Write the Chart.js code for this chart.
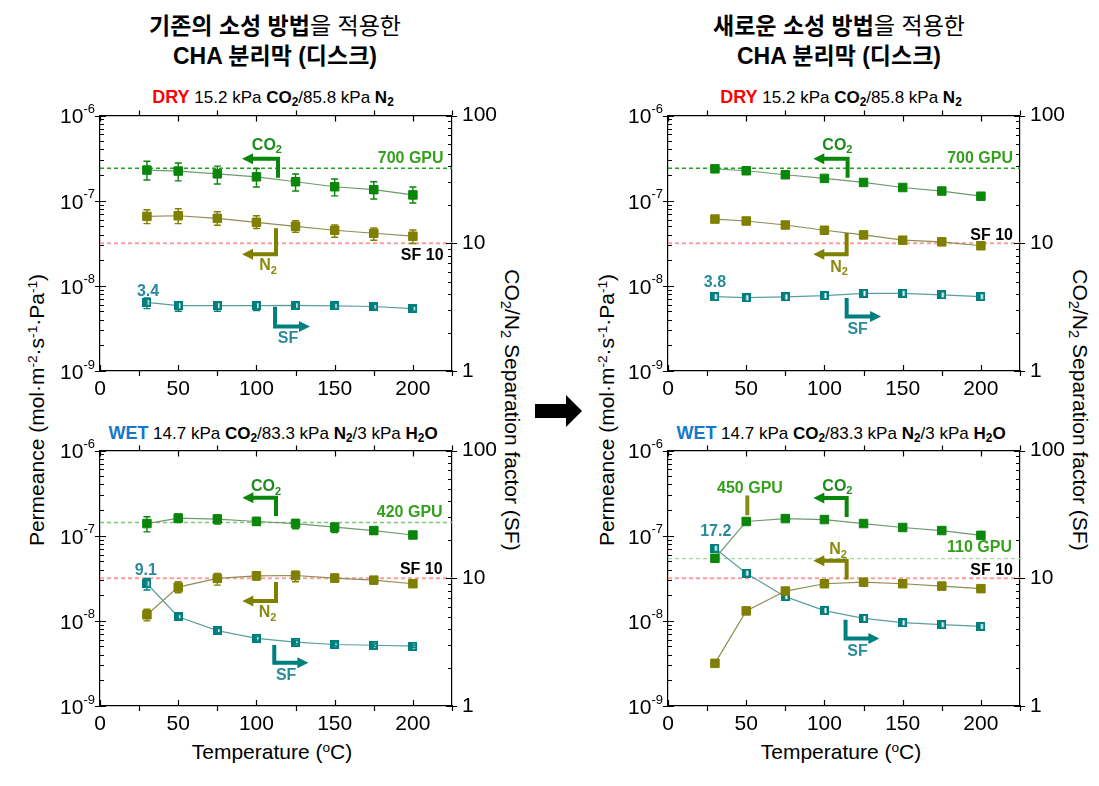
<!DOCTYPE html>
<html>
<head>
<meta charset="utf-8">
<script src="https://cdn.jsdelivr.net/npm/chart.js@4.4.1/dist/chart.umd.min.js"></script>
<style>
html, body { margin: 0; padding: 0; background: #fff; overflow: hidden; }
body { width: 1099px; height: 786px; position: relative; font-family: "Liberation Sans", Arial, sans-serif; color: #000; }
canvas { position: absolute; }
.t { position: absolute; white-space: nowrap; transform: translate(-50%, -50%); }
.title { font-family: "Liberation Sans", "Noto Sans CJK KR", sans-serif; font-size: 23px; text-align: center; line-height: 30px; }
.sub { font-size: 17px; }
.sub b { font-weight: bold; }
sub { font-size: 70%; vertical-align: -0.3em; line-height: 0; }
sup { font-size: 65%; vertical-align: 0.55em; line-height: 0; }
.axt { font-size: 21px; }
.rotl { transform: translate(-50%, -50%) rotate(-90deg); }
.rotr { transform: translate(-50%, -50%) rotate(90deg); }
</style>
</head>
<body>

<!-- titles -->
<div class="t title" style="left:275px; top:41px;">
  <b>기존의 소성 방법</b>을 적용한<br><b>CHA 분리막 (디스크)</b>
</div>
<div class="t title" style="left:839px; top:41px;">
  <b>새로운 소성 방법</b>을 적용한<br><b>CHA 분리막 (디스크)</b>
</div>

<!-- panel subtitles -->
<div class="t sub" style="left:273px; top:97px;"><b style="color:#ff0000;font-size:18px;">DRY</b> 15.2 kPa <b>CO<sub>2</sub></b>/85.8 kPa <b>N<sub>2</sub></b></div>
<div class="t sub" style="left:841px; top:97px;"><b style="color:#ff0000;font-size:18px;">DRY</b> 15.2 kPa <b>CO<sub>2</sub></b>/85.8 kPa <b>N<sub>2</sub></b></div>
<div class="t sub" style="left:273px; top:433px;"><b style="color:#1577c9;font-size:18px;">WET</b> 14.7 kPa <b>CO<sub>2</sub></b>/83.3 kPa <b>N<sub>2</sub></b>/3 kPa <b>H<sub>2</sub>O</b></div>
<div class="t sub" style="left:841px; top:433px;"><b style="color:#1577c9;font-size:18px;">WET</b> 14.7 kPa <b>CO<sub>2</sub></b>/83.3 kPa <b>N<sub>2</sub></b>/3 kPa <b>H<sub>2</sub>O</b></div>

<!-- axis titles -->
<div class="t axt rotl" style="left:37px; top:410px;">Permeance (mol·m<sup>-2</sup>·s<sup>-1</sup>·Pa<sup>-1</sup>)</div>
<div class="t axt rotl" style="left:607px; top:410px;">Permeance (mol·m<sup>-2</sup>·s<sup>-1</sup>·Pa<sup>-1</sup>)</div>
<div class="t axt rotr" style="left:512px; top:410px;">CO<sub>2</sub>/N<sub>2</sub> Separation factor (SF)</div>
<div class="t axt rotr" style="left:1080px; top:410px;">CO<sub>2</sub>/N<sub>2</sub> Separation factor (SF)</div>
<div class="t axt" style="left:272px; top:752px;">Temperature (<sup>o</sup>C)</div>
<div class="t axt" style="left:841px; top:752px;">Temperature (<sup>o</sup>C)</div>

<!-- big arrow between the two columns -->
<svg style="position:absolute; left:535px; top:395px;" width="48" height="32">
  <polygon points="0,9 31,9 31,0 47,16 31,32 31,23 0,23" fill="#000"/>
</svg>

<canvas id="cTL" width="530" height="320" style="left:0px; top:93px;"></canvas>
<canvas id="cBL" width="530" height="320" style="left:0px; top:428px;"></canvas>
<canvas id="cTR" width="530" height="320" style="left:568px; top:93px;"></canvas>
<canvas id="cBR" width="530" height="320" style="left:568px; top:428px;"></canvas>

<script>
// ---- data ----
const temps = [30, 50, 75, 100, 125, 150, 175, 200];

// conventional calcination, dry feed
const convDryCO2   = [2.29e-7, 2.23e-7, 2.07e-7, 1.91e-7, 1.67e-7, 1.46e-7, 1.35e-7, 1.17e-7];
const convDryCO2Hi = [2.91e-7, 2.78e-7, 2.55e-7, 2.39e-7, 2.06e-7, 1.80e-7, 1.67e-7, 1.45e-7];
const convDryCO2Lo = [1.75e-7, 1.71e-7, 1.57e-7, 1.45e-7, 1.30e-7, 1.14e-7, 1.05e-7, 9.4e-8];
const convDryN2    = [6.55e-8, 6.66e-8, 6.21e-8, 5.58e-8, 5.01e-8, 4.50e-8, 4.15e-8, 3.83e-8];
const convDryN2Hi  = [7.83e-8, 8.05e-8, 7.43e-8, 6.67e-8, 5.83e-8, 5.20e-8, 4.80e-8, 4.54e-8];
const convDryN2Lo  = [5.38e-8, 5.38e-8, 5.15e-8, 4.71e-8, 4.27e-8, 3.73e-8, 3.44e-8, 3.15e-8];
const convDrySF    = [3.45, 3.25, 3.25, 3.25, 3.27, 3.23, 3.20, 3.08];
const convDrySFHi  = [3.73, 3.45, 3.45, 3.45, 3.43, 3.39, 3.33, 3.23];
const convDrySFLo  = [3.08, 2.94, 2.94, 2.97, 3.05, 3.05, 3.05, 2.94];

// conventional calcination, wet feed
const convWetCO2   = [1.39e-7, 1.61e-7, 1.57e-7, 1.47e-7, 1.39e-7, 1.26e-7, 1.15e-7, 1.02e-7];
const convWetCO2Hi = [1.67e-7, 1.80e-7, 1.75e-7, 1.64e-7, 1.55e-7, 1.40e-7, 1.26e-7, 1.09e-7];
const convWetCO2Lo = [1.11e-7, 1.43e-7, 1.37e-7, 1.33e-7, 1.21e-7, 1.09e-7, 1.05e-7, 9.5e-8];
const convWetN2    = [1.18e-8, 2.49e-8, 3.15e-8, 3.38e-8, 3.41e-8, 3.18e-8, 3.01e-8, 2.73e-8];
const convWetN2Hi  = [1.37e-8, 2.88e-8, 3.60e-8, 3.79e-8, 3.83e-8, 3.53e-8, 3.23e-8, 2.93e-8];
const convWetN2Lo  = [1.00e-8, 2.14e-8, 2.63e-8, 3.01e-8, 2.88e-8, 2.85e-8, 2.80e-8, 2.56e-8];
const convWetSF    = [9.06, 5.00, 3.89, 3.39, 3.16, 3.03, 2.99, 2.94];
const convWetSFHi  = [9.97, 5.20, 4.05, 3.50, 3.25, 3.12, 3.06, 3.00];
const convWetSFLo  = [8.09, 4.80, 3.75, 3.28, 3.07, 2.95, 2.92, 2.88];

// new calcination, dry feed
const newDryCO2 = [2.37e-7, 2.25e-7, 2.02e-7, 1.83e-7, 1.64e-7, 1.43e-7, 1.30e-7, 1.13e-7];
const newDryN2  = [6.09e-8, 5.78e-8, 5.19e-8, 4.50e-8, 3.97e-8, 3.44e-8, 3.29e-8, 2.96e-8];
const newDrySF  = [3.82, 3.75, 3.80, 3.89, 4.06, 4.06, 3.94, 3.82];

// new calcination, wet feed
const newWetCO2 = [5.43e-8, 1.47e-7, 1.59e-7, 1.55e-7, 1.39e-7, 1.25e-7, 1.15e-7, 1.01e-7];
const newWetN2  = [3.17e-9, 1.31e-8, 2.24e-8, 2.73e-8, 2.85e-8, 2.73e-8, 2.56e-8, 2.39e-8];
const newWetSF  = [17.2, 10.97, 7.18, 5.59, 4.85, 4.49, 4.33, 4.20];

// reference levels (700 / 420 / 110 GPU lines, SF = 10)
const gpuLevel = { convDry: 2.41e-7, convWet: 1.43e-7, newDry: 2.41e-7, newWet: 5.38e-8 };
const sfLevel = 10;

const xTicks = [0, 50, 100, 150, 200];
const sfTicks = [1, 10, 100];
const permDecades = [-6, -7, -8, -9];

// ---- styling ----
const GREEN = '#0a860a', OLIVE = '#7f7f00', TEAL = '#007f7f';
const FONT = '"Liberation Sans", Arial, sans-serif';
Chart.defaults.font.family = FONT;

function sfMarker() {
    // teal square with a white slot, like the half-open symbol in the figure
    const c = document.createElement('canvas');
    c.width = 9; c.height = 9;
    const g = c.getContext('2d');
    g.fillStyle = TEAL;
    g.fillRect(0, 0, 9, 9);
    g.fillStyle = '#fff';
    g.fillRect(4.5, 2, 2, 5);
    return c;
}
const SF_MARK = sfMarker();

function pts(vals) {
    return temps.map((t, i) => ({ x: t, y: vals[i] }));
}

function flat(v) {
    return [{ x: 0, y: v }, { x: 225, y: v }];
}

// text with subscript pieces: parts = [[text, isSub], ...]
function richText(ctx, parts, x, y, align, color, size) {
    const big = `bold ${size}px ${FONT}`, small = `bold ${Math.round(size * 0.7)}px ${FONT}`;
    let w = 0;
    parts.forEach(p => { ctx.font = p[1] ? small : big; w += ctx.measureText(p[0]).width; });
    let sx = align === 'right' ? x - w : align === 'center' ? x - w / 2 : x;
    ctx.fillStyle = color;
    ctx.textBaseline = 'middle';
    ctx.textAlign = 'left';
    parts.forEach(p => {
        ctx.font = p[1] ? small : big;
        ctx.fillText(p[0], sx, p[1] ? y + 5 : y);
        sx += ctx.measureText(p[0]).width;
    });
}

function drawArrow(ctx, p, color, head) {
    ctx.save();
    ctx.strokeStyle = color;
    ctx.fillStyle = color;
    ctx.lineWidth = 4;
    ctx.lineJoin = 'miter';
    const n = p.length;
    const ang = Math.atan2(p[n - 1][1] - p[n - 2][1], p[n - 1][0] - p[n - 2][0]);
    const L = 11, W = 5.5;
    ctx.beginPath();
    ctx.moveTo(p[0][0], p[0][1]);
    for (let i = 1; i < n - 1; i++) ctx.lineTo(p[i][0], p[i][1]);
    if (head) {
        ctx.lineTo(p[n - 1][0] - Math.cos(ang) * (L - 1), p[n - 1][1] - Math.sin(ang) * (L - 1));
    } else {
        ctx.lineTo(p[n - 1][0], p[n - 1][1]);
    }
    ctx.stroke();
    if (head) {
        const bx = p[n - 1][0] - Math.cos(ang) * L, by = p[n - 1][1] - Math.sin(ang) * L;
        ctx.beginPath();
        ctx.moveTo(p[n - 1][0], p[n - 1][1]);
        ctx.lineTo(bx - Math.sin(ang) * W, by + Math.cos(ang) * W);
        ctx.lineTo(bx + Math.sin(ang) * W, by - Math.cos(ang) * W);
        ctx.closePath();
        ctx.fill();
    }
    ctx.restore();
}

// draws error bars, the box, ticks, decade labels and the in-plot notes
function decoPlugin(cfg) {
    return {
        id: 'deco',
        afterDatasetsDraw(chart) {
            const ctx = chart.ctx, xs = chart.scales.x, ys = chart.scales.y, ys2 = chart.scales.y2;

            (cfg.errors || []).forEach(e => {
                const sc = e.axis === 'y2' ? ys2 : ys;
                ctx.save();
                ctx.strokeStyle = e.color;
                ctx.lineWidth = 1.4;
                temps.forEach((t, i) => {
                    const px = xs.getPixelForValue(t);
                    const top = sc.getPixelForValue(e.hi[i]), bot = sc.getPixelForValue(e.lo[i]);
                    ctx.beginPath();
                    ctx.moveTo(px, top); ctx.lineTo(px, bot);
                    ctx.moveTo(px - 3.5, top); ctx.lineTo(px + 3.5, top);
                    ctx.moveTo(px - 3.5, bot); ctx.lineTo(px + 3.5, bot);
                    ctx.stroke();
                });
                ctx.restore();
            });

            const P = (x, ly) => [xs.getPixelForValue(x), ys.getPixelForValue(Math.pow(10, ly))];
            (cfg.arrows || []).forEach(a => drawArrow(ctx, a.p.map(q => P(q[0], q[1])), a.color, a.head !== false));
            (cfg.notes || []).forEach(nt => {
                const [px, py] = P(nt.x, nt.ly);
                richText(ctx, nt.parts, px, py, nt.align || 'center', nt.color, nt.size || 16);
            });
        },
        afterDraw(chart) {
            const ctx = chart.ctx, a = chart.chartArea;
            const xs = chart.scales.x, ys = chart.scales.y, ys2 = chart.scales.y2;
            ctx.save();
            ctx.strokeStyle = '#000';
            ctx.lineWidth = 1.2;
            ctx.beginPath();
            // top edge of the box
            ctx.moveTo(a.left, a.top); ctx.lineTo(a.right, a.top);
            // x ticks: majors inside, minors outside, mirrored on top
            for (let v = 0; v <= 225; v += 25) {
                const px = Math.round(xs.getPixelForValue(v)) + 0.5;
                if (xTicks.includes(v)) {
                    ctx.moveTo(px, a.bottom); ctx.lineTo(px, a.bottom - 6);
                    ctx.moveTo(px, a.top); ctx.lineTo(px, a.top + 6);
                } else {
                    ctx.moveTo(px, a.bottom); ctx.lineTo(px, a.bottom + 5);
                    ctx.moveTo(px, a.top); ctx.lineTo(px, a.top - 5);
                }
            }
            // left log ticks
            permDecades.forEach(d => {
                const py = Math.round(ys.getPixelForValue(Math.pow(10, d))) + 0.5;
                ctx.moveTo(a.left - 5, py); ctx.lineTo(a.left + 6, py);
                if (d > -9) {
                    for (let m = 2; m <= 9; m++) {
                        const my = Math.round(ys.getPixelForValue(m * Math.pow(10, d - 1))) + 0.5;
                        ctx.moveTo(a.left, my); ctx.lineTo(a.left + 4, my);
                    }
                }
            });
            // right log ticks
            [1, 10, 100].forEach(d => {
                const py = Math.round(ys2.getPixelForValue(d)) + 0.5;
                ctx.moveTo(a.right + 5, py); ctx.lineTo(a.right - 6, py);
                if (d < 100) {
                    for (let m = 2; m <= 9; m++) {
                        const my = Math.round(ys2.getPixelForValue(m * d)) + 0.5;
                        ctx.moveTo(a.right, my); ctx.lineTo(a.right - 4, my);
                    }
                }
            });
            ctx.stroke();

            // 10^n labels on the left axis
            ctx.fillStyle = '#000';
            ctx.textBaseline = 'middle';
            ctx.textAlign = 'left';
            permDecades.forEach(d => {
                const py = ys.getPixelForValue(Math.pow(10, d));
                ctx.font = `13px ${FONT}`;
                const sup = String(d);
                const ws = ctx.measureText(sup).width;
                ctx.font = `21px ${FONT}`;
                const wb = ctx.measureText('10').width;
                const x0 = a.left - 5 - ws - wb;
                ctx.fillText('10', x0, py + 2);
                ctx.font = `13px ${FONT}`;
                ctx.fillText(sup, x0 + wb, py - 6);
            });
            ctx.restore();
        }
    };
}

function makePanel(id, cfg) {
    const datasets = [
        {
            label: 'CO2', data: pts(cfg.co2), yAxisID: 'y',
            borderColor: '#6f9a6f', borderWidth: 1.2,
            pointStyle: 'rect', pointRadius: 6, pointBorderWidth: 1,
            pointBackgroundColor: GREEN, pointBorderColor: GREEN
        },
        {
            label: 'N2', data: pts(cfg.n2), yAxisID: 'y',
            borderColor: '#8f8d55', borderWidth: 1.2,
            pointStyle: 'rect', pointRadius: 6, pointBorderWidth: 1,
            pointBackgroundColor: OLIVE, pointBorderColor: OLIVE
        },
        {
            label: 'SF', data: pts(cfg.sf), yAxisID: 'y2',
            borderColor: '#5c9e9e', borderWidth: 1.2,
            pointStyle: SF_MARK, pointRadius: 5
        },
        {
            label: 'GPU', data: flat(cfg.gpu), yAxisID: 'y', order: 5,
            borderColor: cfg.gpuColor, borderWidth: 1.4, borderDash: [4, 3], pointRadius: 0
        },
        {
            label: 'SF10', data: flat(sfLevel), yAxisID: 'y2', order: 5,
            borderColor: '#ff9c9c', borderWidth: 2, borderDash: [4, 3], pointRadius: 0
        }
    ];

    new Chart(document.getElementById(id), {
        type: 'line',
        data: { datasets },
        options: {
            responsive: false,
            animation: false,
            devicePixelRatio: 1,
            layout: { padding: { left: 40, right: 18, top: 20, bottom: 12 } },
            plugins: { legend: { display: false }, tooltip: { enabled: false } },
            elements: { line: { tension: 0 } },
            scales: {
                x: {
                    type: 'linear', min: 0, max: 225,
                    grid: { display: false, drawTicks: false },
                    border: { display: true, color: '#000', width: 1.2 },
                    ticks: {
                        stepSize: 50, includeBounds: false, padding: 6,
                        color: '#000', font: { size: 21 },
                        callback: v => (xTicks.includes(v) ? String(v) : '')
                    },
                    afterFit: s => { s.height = 30; }
                },
                y: {
                    type: 'logarithmic', position: 'left', min: 1e-9, max: 1e-6,
                    grid: { display: false, drawTicks: false },
                    border: { display: true, color: '#000', width: 1.2 },
                    ticks: { display: false },
                    afterFit: s => { s.width = 60; }
                },
                y2: {
                    type: 'logarithmic', position: 'right', min: 1, max: 100,
                    grid: { display: false, drawTicks: false },
                    border: { display: true, color: '#000', width: 1.2 },
                    ticks: {
                        autoSkip: false, padding: 10, color: '#000', font: { size: 21 },
                        callback: v => (sfTicks.includes(v) ? String(v) : '')
                    },
                    afterFit: s => { s.width = 60; }
                }
            }
        },
        plugins: [decoPlugin(cfg)]
    });
}

const CO2TXT = [['CO', false], ['2', true]];
const N2TXT = [['N', false], ['2', true]];
const GPU_TXT_COLOR = '#35a01c';
const SF_TXT_COLOR = '#2a8a9c';

makePanel('cTL', {
    co2: convDryCO2, n2: convDryN2, sf: convDrySF,
    gpu: gpuLevel.convDry, gpuColor: '#1ea51e',
    errors: [
        { hi: convDryCO2Hi, lo: convDryCO2Lo, color: GREEN, axis: 'y' },
        { hi: convDryN2Hi, lo: convDryN2Lo, color: OLIVE, axis: 'y' },
        { hi: convDrySFHi, lo: convDrySFLo, color: TEAL, axis: 'y2' }
    ],
    notes: [
        { x: 219.6, ly: -6.5, parts: [['700 GPU', false]], align: 'right', color: GPU_TXT_COLOR },
        { x: 219.6, ly: -7.64, parts: [['SF 10', false]], align: 'right', color: '#000' },
        { x: 30.7, ly: -8.07, parts: [['3.4', false]], color: SF_TXT_COLOR },
        { x: 106.7, ly: -6.349, parts: CO2TXT, color: '#1c8c1c' },
        { x: 107.4, ly: -7.767, parts: N2TXT, color: '#8a8a10' },
        { x: 120.2, ly: -8.616, parts: [['SF', false]], color: SF_TXT_COLOR }
    ],
    arrows: [
        { p: [[113.8, -6.729], [113.8, -6.508], [90.8, -6.508]], color: GREEN },
        { p: [[112.5, -7.322], [112.5, -7.628], [90.8, -7.628]], color: OLIVE },
        { p: [[111.9, -8.244], [111.9, -8.477], [134.2, -8.477]], color: TEAL }
    ]
});

makePanel('cBL', {
    co2: convWetCO2, n2: convWetN2, sf: convWetSF,
    gpu: gpuLevel.convWet, gpuColor: '#7cc77c',
    errors: [
        { hi: convWetCO2Hi, lo: convWetCO2Lo, color: GREEN, axis: 'y' },
        { hi: convWetN2Hi, lo: convWetN2Lo, color: OLIVE, axis: 'y' },
        { hi: convWetSFHi, lo: convWetSFLo, color: TEAL, axis: 'y2' }
    ],
    notes: [
        { x: 219, ly: -6.727, parts: [['420 GPU', false]], align: 'right', color: GPU_TXT_COLOR },
        { x: 219, ly: -7.395, parts: [['SF 10', false]], align: 'right', color: '#000' },
        { x: 29.3, ly: -7.407, parts: [['9.1', false]], color: SF_TXT_COLOR },
        { x: 106.1, ly: -6.424, parts: CO2TXT, color: '#1c8c1c' },
        { x: 107.1, ly: -7.907, parts: N2TXT, color: '#8a8a10' },
        { x: 119, ly: -8.64, parts: [['SF', false]], color: SF_TXT_COLOR }
    ],
    arrows: [
        { p: [[112.5, -6.767], [112.5, -6.554], [91.0, -6.554]], color: GREEN },
        { p: [[112.5, -7.543], [112.5, -7.767], [91.0, -7.767]], color: OLIVE },
        { p: [[111.4, -8.283], [111.4, -8.492], [133.2, -8.492]], color: TEAL }
    ]
});

makePanel('cTR', {
    co2: newDryCO2, n2: newDryN2, sf: newDrySF,
    gpu: gpuLevel.newDry, gpuColor: '#1ea51e',
    notes: [
        { x: 220.5, ly: -6.5, parts: [['700 GPU', false]], align: 'right', color: GPU_TXT_COLOR },
        { x: 220.5, ly: -7.407, parts: [['SF 10', false]], align: 'right', color: '#000' },
        { x: 30.0, ly: -7.965, parts: [['3.8', false]], color: SF_TXT_COLOR },
        { x: 108.3, ly: -6.349, parts: CO2TXT, color: '#1c8c1c' },
        { x: 109.3, ly: -7.78, parts: N2TXT, color: '#8a8a10' },
        { x: 121.2, ly: -8.51, parts: [['SF', false]], color: SF_TXT_COLOR }
    ],
    arrows: [
        { p: [[114.8, -6.729], [114.8, -6.508], [92.9, -6.508]], color: GREEN },
        { p: [[114.2, -7.38], [114.2, -7.63], [92.9, -7.63]], color: OLIVE },
        { p: [[114.2, -8.143], [114.2, -8.36], [136.2, -8.36]], color: TEAL }
    ]
});

makePanel('cBR', {
    co2: newWetCO2, n2: newWetN2, sf: newWetSF,
    gpu: gpuLevel.newWet, gpuColor: '#a6d6a6',
    notes: [
        { x: 52.4, ly: -6.442, parts: [['450 GPU', false]], color: GPU_TXT_COLOR },
        { x: 219.9, ly: -7.14, parts: [['110 GPU', false]], align: 'right', color: GPU_TXT_COLOR },
        { x: 220.5, ly: -7.407, parts: [['SF 10', false]], align: 'right', color: '#000' },
        { x: 30.5, ly: -6.953, parts: [['17.2', false]], color: SF_TXT_COLOR },
        { x: 108.3, ly: -6.419, parts: CO2TXT, color: '#1c8c1c' },
        { x: 108.7, ly: -7.163, parts: N2TXT, color: '#8a8a10' },
        { x: 121.1, ly: -8.36, parts: [['SF', false]], color: SF_TXT_COLOR }
    ],
    arrows: [
        { p: [[50.7, -6.527], [50.7, -6.76]], color: '#8a8a1a', head: false },
        { p: [[114.2, -6.779], [114.2, -6.558], [92.9, -6.558]], color: GREEN },
        { p: [[114.2, -7.515], [114.2, -7.294], [92.9, -7.294]], color: OLIVE },
        { p: [[113.5, -7.988], [113.5, -8.206], [135.1, -8.206]], color: TEAL }
    ]
});
</script>
</body>
</html>
